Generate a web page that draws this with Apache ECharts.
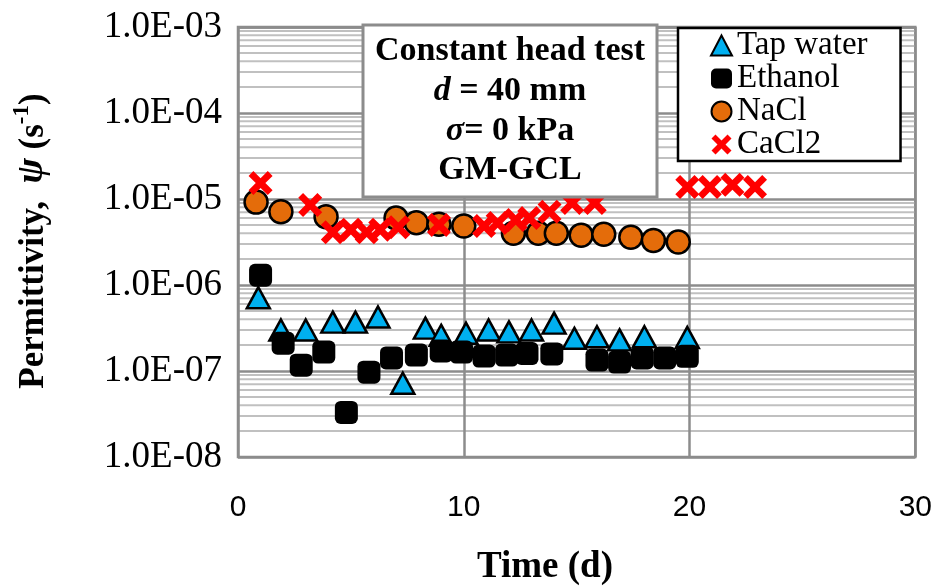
<!DOCTYPE html>
<html>
<head>
<meta charset="utf-8">
<script src="https://cdn.jsdelivr.net/npm/echarts@6/dist/echarts.min.js"></script>
<style>
  html, body { margin: 0; padding: 0; background: #fff; }
  #chart { width: 935px; height: 588px; }
</style>
</head>
<body>
<div id="chart"></div>
<script>
// data (days, permittivity in 1/s)
const tapDays = [0.9, 1.9, 3.0, 4.2, 5.2, 6.2, 7.3, 8.3, 9.0, 10.1, 11.1, 12.0, 13.0, 14.0, 14.9, 15.9, 16.9, 18.0, 19.9];
const tapVals = [7.1e-7, 3.0e-7, 3.0e-7, 3.7e-7, 3.7e-7, 4.25e-7, 7.2e-8, 3.15e-7, 2.6e-7, 2.75e-7, 3.0e-7, 2.85e-7, 3.0e-7, 3.6e-7, 2.4e-7, 2.5e-7, 2.3e-7, 2.5e-7, 2.45e-7];

const ethDays = [1.0, 2.0, 2.8, 3.8, 4.8, 5.8, 6.8, 7.9, 9.0, 9.9, 10.9, 11.9, 12.8, 13.9, 15.9, 16.9, 17.9, 18.9, 19.9];
const ethVals = [1.3e-6, 2.1e-7, 1.17e-7, 1.66e-7, 3.3e-8, 9.7e-8, 1.42e-7, 1.53e-7, 1.71e-7, 1.66e-7, 1.49e-7, 1.53e-7, 1.6e-7, 1.58e-7, 1.34e-7, 1.27e-7, 1.42e-7, 1.42e-7, 1.48e-7];

const naclDays = [0.8, 1.9, 3.9, 7.0, 7.9, 8.9, 10.0, 12.2, 13.3, 14.1, 15.2, 16.2, 17.4, 18.4, 19.5];
const naclVals = [9.2e-6, 7.1e-6, 6.2e-6, 6.0e-6, 5.3e-6, 5.1e-6, 4.85e-6, 4.0e-6, 4.0e-6, 4.0e-6, 3.8e-6, 3.9e-6, 3.6e-6, 3.3e-6, 3.16e-6];

const cacl2Days = [1.0, 3.2, 4.2, 5.0, 5.7, 6.3, 7.1, 8.9, 10.9, 11.5, 12.3, 12.9, 13.8, 14.8, 15.8, 19.9, 20.9, 21.9, 22.9];
const cacl2Vals = [1.53e-5, 8.5e-6, 4.1e-6, 4.4e-6, 4.1e-6, 4.4e-6, 4.7e-6, 5.0e-6, 4.85e-6, 5.25e-6, 5.7e-6, 6.0e-6, 7.1e-6, 9.0e-6, 9.0e-6, 1.38e-5, 1.38e-5, 1.46e-5, 1.38e-5];

const seriesNames = ['Tap water', 'Ethanol', 'NaCl', 'CaCl2'];
const xTicks = [0, 10, 20, 30];
const decades = [-8, -7, -6, -5, -4];
const minorSteps = [2, 3, 4, 5, 6, 7, 8, 9];

const serif = 'Liberation Serif';
const crossPath = 'path://M0,2L2,0L5,3L8,0L10,2L7,5L10,8L8,10L5,7L2,10L0,8L3,5Z';

const pairs = (xs, ys) => xs.map((x, i) => [x, ys[i]]);

// light minor grid lines at 2..9 x 10^n, drawn as flat line series across the plot
const minorSeries = [];
decades.forEach(n => {
  minorSteps.forEach(k => {
    const v = k * Math.pow(10, n);
    minorSeries.push({
      type: 'line', silent: true, z: 1, symbol: 'none',
      lineStyle: { color: '#c0c0c0', width: 2 },
      emphasis: { disabled: true },
      tooltip: { show: false },
      data: [[0, v], [30, v]]
    });
  });
});

const chart = echarts.init(document.getElementById('chart'));

const option = {
  backgroundColor: '#fff',
  animation: false,
  grid: {
    left: 238, right: 18, top: 27, bottom: 131,
    show: true, borderColor: '#8c8c8c', borderWidth: 2.5
  },
  xAxis: {
    type: 'value', min: 0, max: 30, interval: 10, z: 2,
    axisLine: { show: false },
    axisTick: { show: false },
    axisLabel: {
      margin: 36, fontFamily: 'Liberation Sans', fontSize: 30, color: '#000',
      formatter: v => (xTicks.indexOf(v) >= 0 ? String(v) : '')
    },
    splitLine: { show: true, lineStyle: { color: '#8c8c8c', width: 2.5 } }
  },
  yAxis: {
    type: 'log', logBase: 10, min: 1e-8, max: 1e-3,
    axisLine: { show: false },
    axisTick: { show: false },
    axisLabel: {
      margin: 16, fontFamily: serif, fontSize: 37, color: '#000',
      formatter: v => {
        const e = Math.round(Math.log10(v));
        const a = Math.abs(e);
        return '1.0E' + (e < 0 ? '-' : '+') + (a < 10 ? '0' : '') + a;
      }
    },
    splitLine: { show: true, lineStyle: { color: '#8c8c8c', width: 2.5 } }
  },
  legend: {
    orient: 'vertical', left: 678, top: 28,
    padding: [1, 33, 0, 32], itemGap: 0,
    itemWidth: 21, itemHeight: 20,
    backgroundColor: '#fff', borderColor: '#000', borderWidth: 2.5,
    data: seriesNames,
    textStyle: { fontFamily: serif, fontSize: 33, lineHeight: 33, color: '#000' }
  },
  series: minorSeries.concat([
    {
      name: seriesNames[0], type: 'scatter', z: 3,
      symbol: 'triangle', symbolSize: [23, 21],
      itemStyle: { color: '#00b0f0', borderColor: '#000', borderWidth: 2.5, opacity: 1 },
      data: pairs(tapDays, tapVals)
    },
    {
      name: seriesNames[1], type: 'scatter', z: 4,
      symbol: 'roundRect', symbolSize: 23,
      itemStyle: { color: '#000', opacity: 1 },
      data: pairs(ethDays, ethVals)
    },
    {
      name: seriesNames[2], type: 'scatter', z: 5,
      symbol: 'circle', symbolSize: 23,
      itemStyle: { color: '#e46c0a', borderColor: '#000', borderWidth: 2.5, opacity: 1 },
      data: pairs(naclDays, naclVals)
    },
    {
      name: seriesNames[3], type: 'scatter', z: 6,
      symbol: crossPath, symbolSize: 24,
      itemStyle: { color: '#ff0000', opacity: 1 },
      data: pairs(cacl2Days, cacl2Vals)
    }
  ]),
  graphic: [
    {
      type: 'rect', z: 100,
      shape: { x: 363, y: 25, width: 294, height: 172 },
      style: { fill: '#fff', stroke: '#8c8c8c', lineWidth: 3 }
    },
    {
      type: 'text', z: 101, x: 510, y: 51,
      style: { text: 'Constant head test', align: 'center', verticalAlign: 'middle',
        fontFamily: serif, fontWeight: 'bold', fontSize: 34, fill: '#000' }
    },
    {
      type: 'text', z: 101, x: 510, y: 91,
      style: {
        text: '{i|d}{b| = 40 mm}', align: 'center', verticalAlign: 'middle',
        rich: {
          i: { fontFamily: serif, fontWeight: 'bold', fontStyle: 'italic', fontSize: 34, fill: '#000' },
          b: { fontFamily: serif, fontWeight: 'bold', fontSize: 34, fill: '#000' }
        }
      }
    },
    {
      type: 'text', z: 101, x: 510, y: 131,
      style: {
        text: '{i|σ}{b|= 0 kPa}', align: 'center', verticalAlign: 'middle',
        rich: {
          i: { fontFamily: serif, fontWeight: 'bold', fontStyle: 'italic', fontSize: 34, fill: '#000' },
          b: { fontFamily: serif, fontWeight: 'bold', fontSize: 34, fill: '#000' }
        }
      }
    },
    {
      type: 'text', z: 101, x: 510, y: 170,
      style: { text: 'GM-GCL', align: 'center', verticalAlign: 'middle',
        fontFamily: serif, fontWeight: 'bold', fontSize: 34, fill: '#000' }
    },
    {
      // y axis title
      type: 'text', x: 31, y: 241, rotation: Math.PI / 2,
      style: {
        text: '{b|Permittivity,  }{i|ψ}{b| (s}{s|-1}{b|)}',
        align: 'center', verticalAlign: 'middle',
        rich: {
          b: { fontFamily: serif, fontWeight: 'bold', fontSize: 35, lineHeight: 40, fill: '#000', verticalAlign: 'bottom' },
          i: { fontFamily: serif, fontWeight: 'bold', fontStyle: 'italic', fontSize: 38, lineHeight: 40, fill: '#000', verticalAlign: 'bottom' },
          s: { fontFamily: serif, fontWeight: 'bold', fontSize: 23, lineHeight: 40, fill: '#000', verticalAlign: 'top' }
        }
      }
    },
    {
      // x axis title
      type: 'text', x: 545, y: 567,
      style: { text: 'Time (d)', align: 'center', verticalAlign: 'middle',
        fontFamily: serif, fontWeight: 'bold', fontSize: 37, fill: '#000' }
    }
  ]
};

chart.setOption(option);

window.addEventListener('resize', () => {
  chart.resize();
});
</script>
</body>
</html>
